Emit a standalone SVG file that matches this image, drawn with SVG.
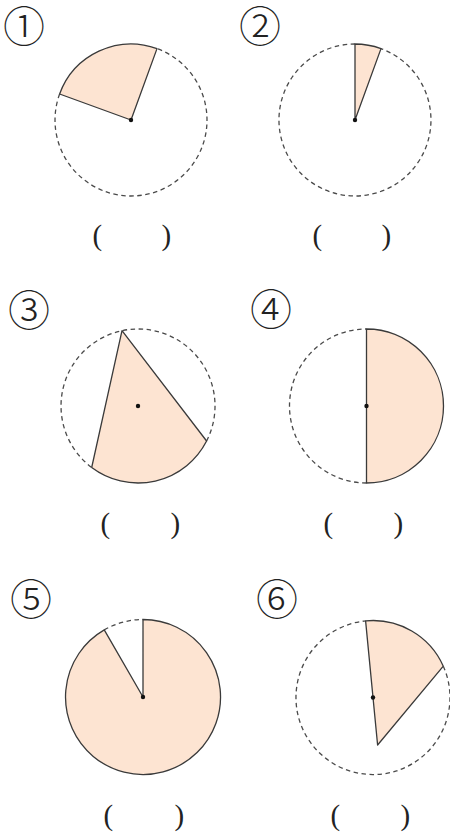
<svg xmlns="http://www.w3.org/2000/svg" width="450" height="832" viewBox="0 0 450 832">
<style>
.bg{fill:#ffffff}
.sec{fill:#fde4d2;stroke:#3a3a3a;stroke-width:1.3;stroke-linejoin:round}
.dash{fill:none;stroke:#4a4a4a;stroke-width:1.3;stroke-dasharray:4.5 3.5}
.dot{fill:#111}
.num{font-family:"Noto Sans CJK SC","DejaVu Sans",sans-serif;font-size:42px;font-weight:300;fill:#222;text-anchor:middle}
.par{font-family:"Liberation Serif",serif;font-size:29px;fill:#222}
</style>
<rect class="bg" x="0" y="0" width="450" height="832"/>
<g id="fig1">
<path class="dash" d="M59.6,94 A76,76 0 1,0 157,48.6"/>
<path class="sec" d="M131,120 L157,48.6 A76,76 0 0,0 59.6,94 Z"/>
<circle class="dot" cx="131" cy="120" r="2.2"/>
<text class="num" x="24" y="42">①</text>
<text class="par" y="245"><tspan x="92.5">(</tspan><tspan x="161.5">)</tspan></text>
</g>
<g id="fig2">
<path class="dash" d="M355,44 A76,76 0 1,0 381,48.6"/>
<path class="sec" d="M355,120 L381,48.6 A76,76 0 0,0 355,44 Z"/>
<circle class="dot" cx="355" cy="120" r="2.2"/>
<text class="num" x="260" y="42">②</text>
<text class="par" y="245"><tspan x="312.5">(</tspan><tspan x="381.5">)</tspan></text>
</g>
<g id="fig3">
<path class="dash" d="M206.6,441 A77,77 0 1,0 91.7,467.5"/>
<path class="sec" d="M122,330.7 L91.7,467.5 A77,77 0 0,0 206.6,441 Z"/>
<circle class="dot" cx="138" cy="406" r="2.2"/>
<text class="num" x="29" y="326">③</text>
<text class="par" y="533"><tspan x="100.5">(</tspan><tspan x="170.5">)</tspan></text>
</g>
<g id="fig4">
<path class="dash" d="M366.5,483 A77,77 0 0,1 366.5,329"/>
<path class="sec" d="M366.5,329 A77,77 0 0,1 366.5,483 Z"/>
<circle class="dot" cx="366.5" cy="406" r="2.2"/>
<text class="num" x="271" y="325">④</text>
<text class="par" y="533"><tspan x="323.5">(</tspan><tspan x="393.5">)</tspan></text>
</g>
<g id="fig5">
<path class="dash" d="M104.25,629.9 A77.5,77.5 0 0,1 143,619.5"/>
<path class="sec" d="M143,697 L143,619.5 A77.5,77.5 0 1,1 104.25,629.9 Z"/>
<circle class="dot" cx="143" cy="697" r="2.2"/>
<text class="num" x="31" y="615">⑤</text>
<text class="par" y="825"><tspan x="103.5">(</tspan><tspan x="174.5">)</tspan></text>
</g>
<g id="fig6">
<path class="dash" d="M443.3,666.2 A77,77 0 1,1 365.6,620.9"/>
<path class="sec" d="M377.6,745 L365.6,620.9 A77,77 0 0,1 443.3,666.2 Z"/>
<circle class="dot" cx="373" cy="697.5" r="2.2"/>
<text class="num" x="277" y="615">⑥</text>
<text class="par" y="825"><tspan x="330.5">(</tspan><tspan x="400.5">)</tspan></text>
</g>
<g id="connectors"></g>
</svg>
